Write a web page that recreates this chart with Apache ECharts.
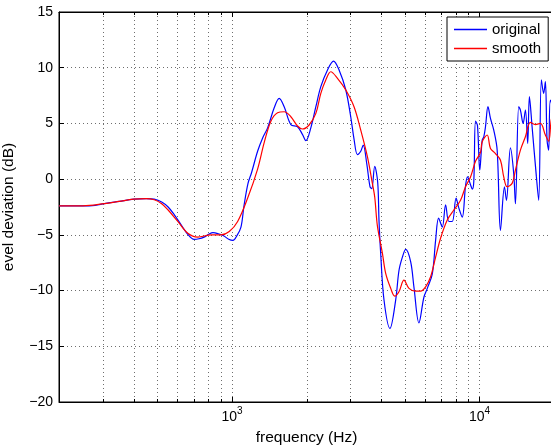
<!DOCTYPE html>
<html>
<head>
<meta charset="utf-8">
<script src="https://cdn.jsdelivr.net/npm/echarts@6/dist/echarts.min.js"></script>
<style>
  html, body { margin: 0; padding: 0; background: #fff; }
  #chart { width: 551px; height: 447px; }
</style>
</head>
<body>
<div id="chart"></div>
<script>
// frequency response, original vs smoothed (dB)
const originalFreq = [
  200, 250, 280, 305, 350, 402, 450, 485, 520, 552,
  585, 623, 660, 703, 735, 771, 805, 838, 880, 928,
  970, 1009, 1045, 1087, 1118, 1160, 1200, 1269, 1330, 1393,
  1481, 1551, 1625, 1729, 1840, 1928, 1988, 2082, 2182, 2285,
  2432, 2571, 2708, 2883, 3018, 3112, 3213, 3313, 3390, 3503,
  3612, 3669, 3773, 3879, 3926, 3989, 4113, 4347, 4585, 4728,
  4880, 5031, 5270, 5435, 5691, 5962, 6154, 6447, 6648, 6836,
  7075, 7295, 7522, 7763, 8042, 8253, 8518, 8782, 8947, 9199,
  9350, 9484, 9636, 9815, 10027, 10254, 10407, 10573, 10820, 11075,
  11420, 11787, 12154, 12614, 12850, 13335, 13750, 13970, 14404, 14633,
  15004, 15328, 15660, 15908, 16312, 16979, 17347, 17783, 18168, 18456,
  18750, 19030, 19333, 20000
];
const originalDb = [
  -2.4, -2.4, -2.35, -2.2, -2.0, -1.8, -1.75, -1.8, -2.05, -2.5,
  -3.2, -4.1, -4.9, -5.4, -5.35, -5.2, -4.95, -4.8, -4.9, -5.1,
  -5.4, -5.5, -5.1, -4.3, -2.4, -0.4, 0.6, 2.5, 3.7, 4.6,
  6.4, 7.25, 6.5, 4.9, 4.7, 4.0, 3.45, 4.6, 6.5, 8.3,
  9.8, 10.6, 9.8, 8.0, 5.6, 3.6, 2.2, 2.5, 3.05, 1.4,
  -0.7, -0.85, 1.15, -0.3, -3.7, -6.7, -10.85, -13.4, -10.85, -8.2,
  -7.0, -6.3, -7.4, -9.7, -12.9, -10.6, -9.8, -8.5, -5.5, -3.5,
  -4.3, -2.3, -3.8, -3.8, -1.7, -2.6, -3.4, -0.6, 0.2, -0.5,
  -0.9, -0.2, 5.2, 4.8, 0.8, 3.5, 3.8, 4.7, 6.5, 5.45,
  4.4, 2.6, -4.6, -0.7, -1.9, 2.8, 0.5, -2.2, 6.5, 6.2,
  5.0, 6.2, 3.2, 7.4, 4.7, 0.2, -1.9, 8.9, 7.7, 8.75,
  3.5, 2.6, 7.1, 6.0
];
const smoothFreq = [
  200, 250, 305, 350, 400, 450, 485, 520, 552, 604,
  663, 727, 823, 903, 975, 1054, 1157, 1269, 1350, 1436,
  1528, 1625, 1729, 1840, 1928, 2049, 2182, 2285, 2393, 2507,
  2668, 2883, 3112, 3313, 3526, 3693, 3773, 3868, 4053, 4178,
  4377, 4544, 4728, 4953, 5188, 5521, 5783, 6058, 6346, 6648,
  6962, 7409, 7879, 8383, 8782, 9199, 9636, 10093, 10254, 10740,
  11075, 11600, 12154, 12531, 12930, 13548, 13970, 14633, 15328, 16057,
  16820, 17620, 18456, 19030, 19500, 20000
];
const smoothDb = [
  -2.4, -2.4, -2.2, -2.0, -1.8, -1.75, -1.85, -2.2, -2.77, -3.8,
  -4.86, -5.2, -5.0, -5.0, -4.7, -3.8, -1.7, 0.9, 3.3, 5.2,
  5.96, 6.05, 5.6, 4.77, 4.5, 4.86, 5.9, 7.7, 8.9, 9.64,
  9.05, 8.0, 6.5, 4.4, 2.0, -0.4, -1.6, -4.2, -6.66, -8.46,
  -9.8, -10.5, -10.1, -9.06, -9.8, -10.05, -10.05, -9.66, -8.76, -7.0,
  -5.3, -3.67, -2.77, -1.9, -0.68, 0.2, 1.6, 2.4, 3.36, 3.96,
  2.76, 2.3, 1.7, 0.2, -0.68, -0.38, 0.8, 2.6, 3.8, 5.1,
  4.9, 5.0, 3.96, 3.4, 5.3, 6.0
];
// minor log grid positions
const minorFreq = [300, 400, 500, 600, 700, 800, 900,
  2000, 3000, 4000, 5000, 6000, 7000, 8000, 9000];
const yMin = -20, yMax = 15, yStep = 5;
const xMin = 200, xMax = 20000;

const font = 'Liberation Sans, Arial, Helvetica, sans-serif';
const gridColor = '#6e6e6e';

function zip(a, b) {
  return a.map((v, i) => [v, b[i]]);
}

function renderMinor(params, api) {
  const cs = params.coordSys;
  const x = Math.round(api.coord([api.value(0), 0])[0]) + 0.5;
  const top = cs.y, bottom = cs.y + cs.height;
  return {
    type: 'group',
    children: [
      { type: 'line', shape: { x1: x, y1: top, x2: x, y2: bottom },
        style: { stroke: gridColor, lineWidth: 1, lineDash: [1, 3] } },
      { type: 'line', shape: { x1: x, y1: bottom, x2: x, y2: bottom - 3 },
        style: { stroke: '#000', lineWidth: 1 } },
      { type: 'line', shape: { x1: x, y1: top, x2: x, y2: top + 3 },
        style: { stroke: '#000', lineWidth: 1 } }
    ]
  };
}

const chart = echarts.init(document.getElementById('chart'), null, { renderer: 'canvas' });

const option = {
  animation: false,
  backgroundColor: '#fff',
  textStyle: { fontFamily: font },
  grid: {
    left: 59, right: -3, top: 12, bottom: 45,
    show: true, borderColor: '#000', borderWidth: 1,
    containLabel: false, outerBoundsMode: 'none'
  },
  legend: {
    data: ['original', 'smooth'],
    orient: 'vertical',
    left: 447,
    top: 17,
    padding: [4, 7, 4, 7],
    itemGap: 2,
    itemWidth: 33,
    itemHeight: 1.5,
    itemTextGap: 4,
    icon: 'rect',
    backgroundColor: '#fff',
    borderColor: '#000',
    borderWidth: 1,
    borderRadius: 0,
    textStyle: { fontFamily: font, fontSize: 15, color: '#000', lineHeight: 17 }
  },
  xAxis: [{
    type: 'log',
    logBase: 10,
    min: xMin,
    max: xMax,
    name: 'frequency (Hz)',
    nameLocation: 'middle',
    nameGap: 28,
    nameTextStyle: { fontFamily: font, fontSize: 15.5, color: '#000' },
    axisLine: { onZero: false, lineStyle: { color: '#000', width: 1 } },
    axisTick: { inside: true, length: 5, lineStyle: { color: '#000' } },
    axisLabel: {
      margin: 8,
      showMinLabel: false,
      showMaxLabel: false,
      formatter: function (v) {
        const p = Math.log10(v);
        if (Math.abs(p - Math.round(p)) > 1e-6) return '';
        return '{b|10}{s|' + Math.round(p) + '}';
      },
      rich: {
        b: { fontFamily: font, fontSize: 14, color: '#000', verticalAlign: 'bottom', lineHeight: 14 },
        s: { fontFamily: font, fontSize: 10, color: '#000', verticalAlign: 'bottom', lineHeight: 10, padding: [0, 0, 8, 0] }
      }
    },
    splitLine: { show: true, lineStyle: { color: gridColor, width: 1, type: [1, 3] } }
  }, {
    type: 'log',
    logBase: 10,
    min: xMin,
    max: xMax,
    position: 'top',
    axisLine: { onZero: false, lineStyle: { color: '#000', width: 1 } },
    axisTick: { inside: true, length: 5, lineStyle: { color: '#000' } },
    axisLabel: { show: false },
    splitLine: { show: false }
  }],
  yAxis: {
    type: 'value',
    min: yMin,
    max: yMax,
    interval: yStep,
    name: 'evel deviation (dB)',
    nameLocation: 'middle',
    nameGap: 42,
    nameTextStyle: { fontFamily: font, fontSize: 15.5, color: '#000' },
    axisLine: { show: true, onZero: false, lineStyle: { color: '#000', width: 1 } },
    axisTick: { show: true, inside: true, length: 5, lineStyle: { color: '#000' } },
    axisLabel: {
      margin: 6,
      fontFamily: font,
      fontSize: 14,
      color: '#000',
      formatter: v => String(v).replace('-', '\u2212')
    },
    splitLine: { show: true, lineStyle: { color: gridColor, width: 1, type: [1, 3] } }
  },
  series: [
    {
      name: 'minor',
      type: 'custom',
      xAxisIndex: 0,
      renderItem: renderMinor,
      data: minorFreq.map(f => [f, 0]),
      encode: { x: 0, y: 1 },
      silent: true,
      z: 1
    },
    {
      name: 'original',
      type: 'line',
      xAxisIndex: 0,
      data: zip(originalFreq, originalDb),
      showSymbol: false,
      symbol: 'none',
      smooth: 0.35,
      lineStyle: { color: '#0000ff', width: 1.2 },
      itemStyle: { color: '#0000ff' },
      z: 3
    },
    {
      name: 'smooth',
      type: 'line',
      xAxisIndex: 0,
      data: zip(smoothFreq, smoothDb),
      showSymbol: false,
      symbol: 'none',
      smooth: 0.35,
      lineStyle: { color: '#ff0000', width: 1.2 },
      itemStyle: { color: '#ff0000' },
      z: 4
    }
  ]
};

chart.setOption(option);
</script>
</body>
</html>
